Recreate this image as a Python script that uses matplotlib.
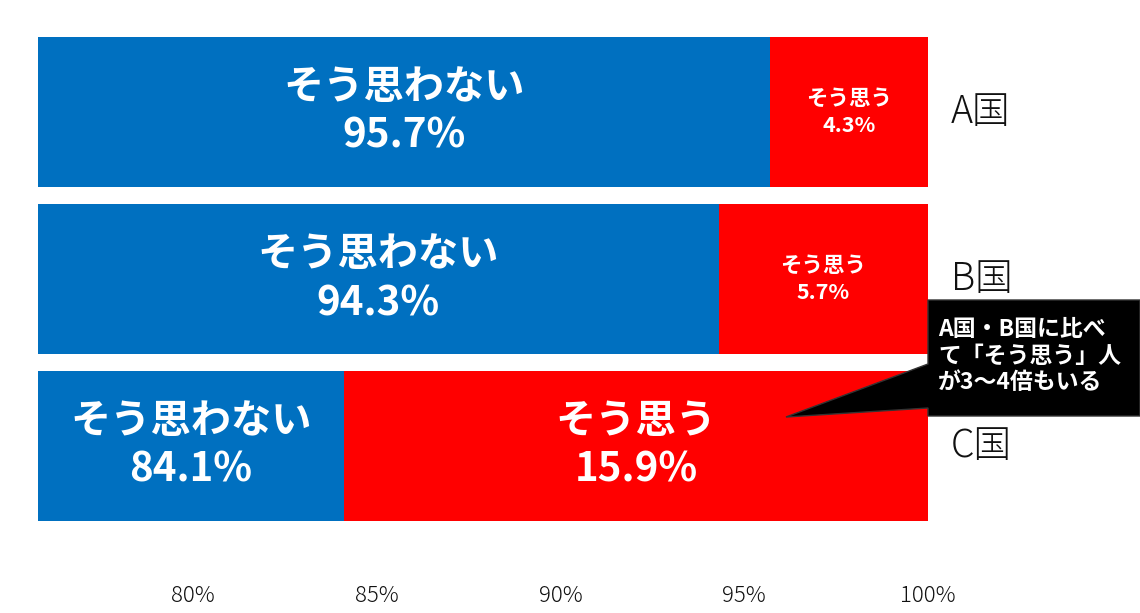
import matplotlib
matplotlib.use("Agg")
import matplotlib.pyplot as plt
from matplotlib.patches import Polygon

plt.rcParams['font.family'] = ['Noto Sans CJK JP', 'DejaVu Sans']

# data
countries = ['A国', 'B国', 'C国']
disagree = [95.7, 94.3, 84.1]   # そう思わない
agree = [4.3, 5.7, 15.9]        # そう思う
ticks = [80, 85, 90, 95, 100]
tick_labels = ['80%', '85%', '90%', '95%', '100%']
callout = 'A国・B国に比べ\nて「そう思う」人\nが3〜4倍もいる'

BLUE = '#0070C0'
RED = '#FF0000'
XMIN = 75.77

fig = plt.figure(figsize=(11.4, 6.13), dpi=100)
ax = fig.add_axes([38 / 1140, 1 - 529.5 / 613, 890 / 1140, 501 / 613])

ys = range(len(countries))
ax.barh(ys, [d - XMIN for d in disagree], left=XMIN, height=0.9, color=BLUE)
ax.barh(ys, agree, left=disagree, height=0.9, color=RED)

ax.set_xlim(XMIN, 100)
ax.set_ylim(2.5, -0.5)
for s in ax.spines.values():
    s.set_visible(False)
ax.set_yticks([])
ax.set_xticks(ticks)
ax.set_xticklabels(tick_labels, fontsize=16, color='#111111', fontweight='light')
ax.tick_params(axis='x', length=0, pad=40)

for i, (d, a) in enumerate(zip(disagree, agree)):
    big_a = a > 10
    ax.text((XMIN + d) / 2, i, 'そう思わない\n%.1f%%' % d, ha='center', va='center',
            color='white', fontsize=29, fontweight='bold', linespacing=1.25)
    ax.text(d + a / 2, i, 'そう思う\n%.1f%%' % a, ha='center', va='center',
            color='white', fontsize=29 if big_a else 15.5, fontweight='bold',
            linespacing=1.25 if big_a else 1.35)
    ax.text(100.63, i, countries[i], ha='left', va='center', fontsize=27,
            fontweight='light', color='#111111')

# callout box with pointer
W, H = 1140, 613
pts = [(928, 300), (1140, 300), (1140, 416), (928, 416), (928, 408),
       (786, 417), (928, 364)]
fig.patches.append(Polygon([(x / W, 1 - y / H) for x, y in pts], closed=True,
                           transform=fig.transFigure, facecolor='black',
                           edgecolor='#333333', lw=1))
fig.text(938 / W, 1 - 356 / H, callout, ha='left', va='center', color='white',
         fontsize=16.5, fontweight='bold', linespacing=1.2)

fig.savefig('out.png', dpi=100, facecolor='white')
